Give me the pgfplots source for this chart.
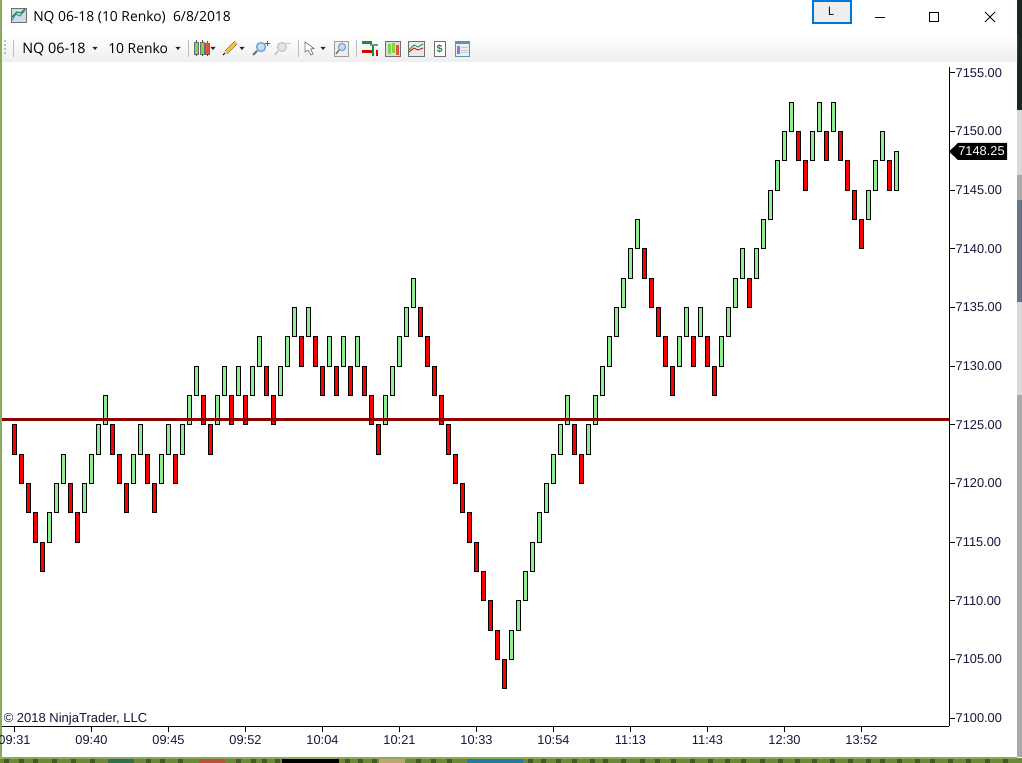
\documentclass[border=0pt]{standalone}
\usepackage{pgfplots}
\pgfplotsset{compat=1.18}
\usepackage{pgfplotstable}
\usepackage{fontspec}
\setmainfont{Liberation Sans}
\newfontfamily\uifont{Open Sans}
\definecolor{renkored}{HTML}{FF0000}
\definecolor{renkogreen}{HTML}{90EE90}
\definecolor{levelred}{HTML}{8B0000}
\definecolor{ticktext}{HTML}{14143C}
\definecolor{winborder}{HTML}{8BA95C}
\definecolor{grassgreen}{HTML}{6A8A38}
\definecolor{grassdark}{HTML}{3F5A22}
\definecolor{deskblue}{HTML}{1E7F9C}
\definecolor{deskteal}{HTML}{2E6E55}
\definecolor{deskbrick}{HTML}{B5543A}
\definecolor{desktan}{HTML}{B9A76E}
\definecolor{deskgrey}{HTML}{A9A9A9}
\definecolor{deskdark}{HTML}{18281E}
\definecolor{desklight}{HTML}{D9D9D9}
\definecolor{deskslate}{HTML}{687386}
\definecolor{toolgrey}{HTML}{EEEEEE}
\definecolor{sepgrey}{HTML}{BDBDBD}
\definecolor{iconblue}{HTML}{6E9FD0}
\definecolor{icongrey}{HTML}{C8C8C8}
\definecolor{icondark}{HTML}{6F6F6F}
\definecolor{iconpencil}{HTML}{F4C430}
\definecolor{iconmoney}{HTML}{1E8B3A}
\definecolor{iconpurple}{HTML}{9A6FD8}
\definecolor{iconteal}{HTML}{5B93B5}
\definecolor{btnblue}{HTML}{0078D7}
\definecolor{candlegreen}{HTML}{7ED64A}
\definecolor{candlered}{HTML}{E8503A}
\pgfplotstableread{
x lo h
0 7122.5 2.5
1 7120 2.5
2 7117.5 2.5
3 7115 2.5
4 7112.5 2.5
8 7117.5 2.5
9 7115 2.5
14 7122.5 2.5
15 7120 2.5
16 7117.5 2.5
19 7120 2.5
20 7117.5 2.5
23 7120 2.5
27 7125 2.5
28 7122.5 2.5
31 7125 2.5
33 7125 2.5
36 7127.5 2.5
37 7125 2.5
41 7130 2.5
43 7130 2.5
44 7127.5 2.5
46 7127.5 2.5
48 7127.5 2.5
50 7127.5 2.5
51 7125 2.5
52 7122.5 2.5
58 7132.5 2.5
59 7130 2.5
60 7127.5 2.5
61 7125 2.5
62 7122.5 2.5
63 7120 2.5
64 7117.5 2.5
65 7115 2.5
66 7112.5 2.5
67 7110 2.5
68 7107.5 2.5
69 7105 2.5
70 7102.5 2.5
80 7122.5 2.5
81 7120 2.5
90 7137.5 2.5
91 7135 2.5
92 7132.5 2.5
93 7130 2.5
94 7127.5 2.5
97 7130 2.5
99 7130 2.5
100 7127.5 2.5
105 7135 2.5
112 7147.5 2.5
113 7145 2.5
116 7147.5 2.5
118 7147.5 2.5
119 7145 2.5
120 7142.5 2.5
121 7140 2.5
125 7145 2.5
}\redbars
\pgfplotstableread{
x lo h
5 7115 2.5
6 7117.5 2.5
7 7120 2.5
10 7117.5 2.5
11 7120 2.5
12 7122.5 2.5
13 7125 2.5
17 7120 2.5
18 7122.5 2.5
21 7120 2.5
22 7122.5 2.5
24 7122.5 2.5
25 7125 2.5
26 7127.5 2.5
29 7125 2.5
30 7127.5 2.5
32 7127.5 2.5
34 7127.5 2.5
35 7130 2.5
38 7127.5 2.5
39 7130 2.5
40 7132.5 2.5
42 7132.5 2.5
45 7130 2.5
47 7130 2.5
49 7130 2.5
53 7125 2.5
54 7127.5 2.5
55 7130 2.5
56 7132.5 2.5
57 7135 2.5
71 7105 2.5
72 7107.5 2.5
73 7110 2.5
74 7112.5 2.5
75 7115 2.5
76 7117.5 2.5
77 7120 2.5
78 7122.5 2.5
79 7125 2.5
82 7122.5 2.5
83 7125 2.5
84 7127.5 2.5
85 7130 2.5
86 7132.5 2.5
87 7135 2.5
88 7137.5 2.5
89 7140 2.5
95 7130 2.5
96 7132.5 2.5
98 7132.5 2.5
101 7130 2.5
102 7132.5 2.5
103 7135 2.5
104 7137.5 2.5
106 7137.5 2.5
107 7140 2.5
108 7142.5 2.5
109 7145 2.5
110 7147.5 2.5
111 7150 2.5
114 7147.5 2.5
115 7150 2.5
117 7150 2.5
122 7142.5 2.5
123 7145 2.5
124 7147.5 2.5
126 7145 3.25
}\greenbars
\pgfplotsset{
  chartframe/.style={
    at={(1.5pt,-544.5pt)}, anchor=south west,
    scale only axis, width=710.25pt, height=494.25pt,
    xmin=-1.786, xmax=133.5, ymin=7099.32, ymax=7155.49,
  },
  bars/.style={
    chartframe, axis lines=none, ybar stacked, bar width=3pt,
  },
}
\begin{document}
\begin{tikzpicture}
\path[use as bounding box] (0,0) rectangle (766.5pt,-572.25pt);
\begin{scope}[x=0.75pt,y=-0.75pt]
  \fill[white] (0,0) rectangle (1022,763);
  % desktop strip at bottom
  \fill[grassgreen] (0,758) rectangle (1022,763);
  \foreach \gx in {4,19,33,52,71,90,146,160,178,236,251,262,275,345,358,372,416,431,447,528,541,556,572,590,603,621,640,655,671,690,708,725,741,760,778,795,812,830,848,866,880,897,915,930,948,966,985,1003}{\fill[grassdark] (\gx,758.5) rectangle (\gx+5,763);}
  \fill[black] (282,758) rectangle (339,763);
  \fill[deskblue] (467,758) rectangle (523,763);
  \fill[deskteal] (108,758) rectangle (134,763);
  \fill[deskbrick] (199,758) rectangle (225,763);
  \fill[desktan] (379,758) rectangle (405,763);
  \fill[winborder] (0,756.5) rectangle (1017,758.5);
  \fill[winborder] (0,0) rectangle (2,758);
  % desktop strip at right
  \fill[deskgrey] (1017,0) rectangle (1022,757);
  \fill[deskdark] (1017,0) rectangle (1022,110);
  \fill[desklight] (1017,110) rectangle (1022,175);
  \fill[deskslate] (1017,200) rectangle (1022,302);
  \fill[desklight] (1017,302) rectangle (1022,395);
  % toolbar band
  \shade[top color=white,bottom color=toolgrey] (2,35) rectangle (1017,62);
  % title icon
  \fill[iconblue!35] (11,8) rectangle (26,22);
  \draw[icondark,line width=.5pt] (11,8) rectangle (26,22);
  \draw[iconblue!80!black,line width=.8pt] (12,20) -- (16,14) -- (20,16) -- (25,10);
  \draw[iconmoney,line width=.8pt] (12,17) -- (17,12) -- (21,13) -- (25,9);
  % title
  \node[anchor=base west,inner sep=0pt,font=\uifont\fontsize{10.4pt}{12pt}\selectfont,text=black] at (33,22) {NQ 06-18 (10 Renko)\ \ 6/8/2018};
  % L button and window controls
  \draw[btnblue,fill=toolgrey,line width=1.5pt] (812.5,1) rectangle (851,23);
  \node[inner sep=0pt,font=\uifont\fontsize{8.8pt}{10pt}\selectfont] at (831,11.5) {L};
  \draw[black,line width=.75pt] (875,17.5) -- (885,17.5);
  \draw[black,line width=.75pt] (929.5,12.5) rectangle (938.5,21.5);
  \draw[black,line width=.6pt] (985,12) -- (995,22) (995,12) -- (985,22);
  % toolbar text
  \node[anchor=base west,inner sep=0pt,font=\uifont\fontsize{10.8pt}{12pt}\selectfont] at (22,53.5) {NQ 06-18};
  \node[anchor=base west,inner sep=0pt,font=\uifont\fontsize{10.4pt}{12pt}\selectfont] at (108,53.5) {10 Renko};
  \foreach \ax in {95,178,213,242,323}{\fill[black!85] (\ax-2.5,47) -- (\ax+2.5,47) -- (\ax,50) -- cycle;}
  \foreach \sx in {13,188,298,356}{\draw[sepgrey,line width=.6pt] (\sx,40) -- (\sx,57);}
  \foreach \dy in {40,44,48,52}{\fill[sepgrey] (4,\dy) rectangle (6,\dy+2);}
  % candle icon
  \draw[icondark,fill=candlegreen,line width=.4pt] (194.5,42) rectangle (198.5,54);
  \draw[icondark,fill=candlegreen,line width=.4pt] (200,42) rectangle (204,54);
  \draw[icondark,fill=candlered,line width=.4pt] (205.5,43) rectangle (209.5,54);
  \draw[black!70,line width=.5pt] (196.5,40.5) -- (196.5,42) (196.5,54) -- (196.5,56) (202,40.5) -- (202,42) (202,54) -- (202,56) (207.5,41) -- (207.5,43) (207.5,54) -- (207.5,56);
  % pencil
  \draw[black!60,line width=3pt] (226,52.5) -- (236,42.5);
  \draw[iconpencil,line width=2.2pt] (226,52.5) -- (236,42.5);
  \draw[black,line width=.7pt] (223,55) -- (225,53);
  % magnifiers
  \draw[iconblue,fill=iconblue!35,line width=1pt] (261,47) circle (4.5);
  \draw[icondark,line width=1.4pt] (257,51) -- (253,55);
  \draw[iconmoney,line width=1.3pt] (265,43.5) -- (270,43.5) (267.5,41) -- (267.5,46);
  \draw[icongrey,fill=icongrey!50,line width=1pt] (282,47) circle (4.5);
  \draw[icongrey,line width=1.4pt] (278,51) -- (275,55);
  \draw[icongrey,line width=1pt] (286,43.5) -- (291,43.5);
  % cursor
  \draw[icondark,fill=white,line width=.5pt] (305,42) -- (305,52) -- (308,50) -- (311,55) -- (313,54) -- (310.5,49) -- (314,48.5) -- cycle;
  % zoom box
  \draw[icondark!70,fill=toolgrey,line width=.5pt] (334,41) rectangle (348,56);
  \draw[iconblue,fill=iconblue!35,line width=.8pt] (342,47) circle (3.6);
  \draw[icondark,line width=1pt] (339,50) -- (336,54);
  % data series icon
  \fill[iconmoney] (362,41) rectangle (372,44); \fill[deskteal!70] (370,44) rectangle (378,46);
  \fill[red!85!black] (362,50) rectangle (372,53); \fill[iconmoney] (372,46) rectangle (374,56); \fill[red!85!black] (376,50) rectangle (378,56);
  % chart style icon
  \draw[icondark,fill=icongrey!60,line width=.5pt] (385,41) rectangle (400,56);
  \fill[candlegreen] (388,44) rectangle (390.5,54); \fill[candlegreen] (392,43) rectangle (394.5,53); \fill[candlered] (396,45) rectangle (398.5,55);
  % indicators icon
  \draw[icondark,fill=icongrey!40,line width=.5pt] (408,41) rectangle (424,56);
  \draw[iconmoney,line width=.6pt] (409,50) -- (414,45) -- (418,47) -- (423,44);
  \draw[red!80!black,line width=.6pt] (409,52) -- (414,48) -- (418,50) -- (423,48);
  % money icon
  \draw[icondark,fill=white,line width=.5pt] (434,41) rectangle (445,56);
  \node[inner sep=0pt,font=\bfseries\fontsize{8pt}{9pt}\selectfont,text=iconmoney] at (439.5,48.5) {\$};
  % properties icon
  \draw[iconteal,fill=toolgrey,line width=.5pt] (455,41) rectangle (469,56);
  \fill[iconteal] (455,41) rectangle (469,44.5);
  \fill[iconpurple] (456.5,46) rectangle (459.5,54.5);
  \draw[icongrey,line width=.6pt] (461,47.5) -- (467.5,47.5) (461,50) -- (467.5,50) (461,52.5) -- (467.5,52.5);
\end{scope}
% red bars
\begin{axis}[bars]
  \addplot+[draw=none,fill=none,mark=none,forget plot] table[x=x,y=lo] {\redbars};
  \addplot+[draw=black,fill=renkored,line width=.75pt,mark=none] table[x=x,y=h] {\redbars};
\end{axis}
% green bars
\begin{axis}[bars]
  \addplot+[draw=none,fill=none,mark=none,forget plot] table[x=x,y=lo] {\greenbars};
  \addplot+[draw=black,fill=renkogreen,line width=.75pt,mark=none] table[x=x,y=h] {\greenbars};
\end{axis}
% axes, level line and tags
\begin{axis}[
  chartframe,
  clip mode=individual,
  axis x line*=bottom, axis y line*=right,
  axis line style={line width=.75pt,-},
  tick style={black,line width=.75pt},
  tick align=outside,
  major tick length=4.5pt,
  xtick={0,11,22,33,44,55,66,77,88,99,110,121},
  xticklabels={09:31,09:40,09:45,09:52,10:04,10:21,10:33,10:54,11:13,11:43,12:30,13:52},
  ytick={7100,7105,7110,7115,7120,7125,7130,7135,7140,7145,7150,7155},
  /pgf/number format/assume math mode=true,
  yticklabel style={/pgf/number format/fixed,/pgf/number format/zerofill,/pgf/number format/precision=2,/pgf/number format/1000 sep={},font=\fontsize{9.6pt}{11pt}\selectfont,text=ticktext,xshift=-3pt},
  xticklabel style={font=\fontsize{9.6pt}{11pt}\selectfont,text=ticktext,yshift=0.5pt},
]
  \addplot[levelred,line width=2.25pt,forget plot] coordinates {(-1.786,7125.45) (133.5,7125.45)};
\end{axis}
\begin{scope}[x=0.75pt,y=-0.75pt]
  \fill[black] (949,151.5) -- (958,143) -- (1007,143) -- (1007,160) -- (958,160) -- cycle;
  \node[inner sep=0pt,text=white,font=\fontsize{9.6pt}{11pt}\selectfont] at (981.5,151.5) {7148.25};
  \node[anchor=west,inner sep=0pt,text=ticktext,font=\fontsize{9.75pt}{11pt}\selectfont] at (3.5,719) {© 2018 NinjaTrader, LLC};
\end{scope}
\end{tikzpicture}
\end{document}
